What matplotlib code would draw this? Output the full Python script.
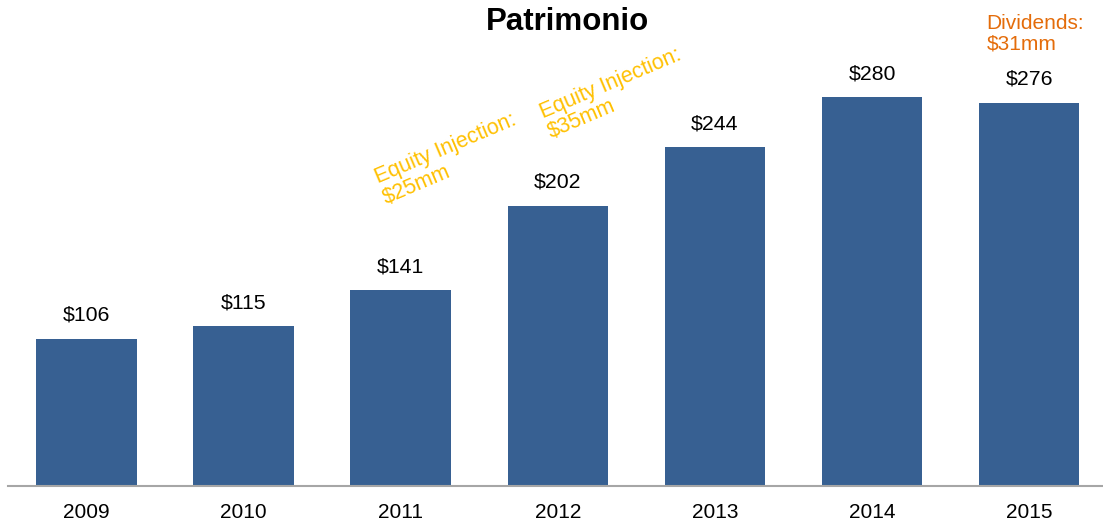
import matplotlib
matplotlib.use("Agg")
import matplotlib.pyplot as plt

# data
years = ["2009", "2010", "2011", "2012", "2013", "2014", "2015"]
equity = [106, 115, 141, 202, 244, 280, 276]
value_labels = ["$106", "$115", "$141", "$202", "$244", "$280", "$276"]

injection_notes = ["Equity Injection:\n$25mm", "Equity Injection:\n$35mm"]
dividend_note = "Dividends:\n$31mm"

plt.rcParams['font.family'] = ['Liberation Sans', 'DejaVu Sans']

fig = plt.figure(figsize=(11.03, 5.26), dpi=100, facecolor='white')
ax = fig.add_axes([8 / 1103, 40 / 526, 1095 / 1103, 486 / 526])

x = list(range(len(years)))
bars = ax.bar(x, equity, width=0.64, color='#376092', zorder=2)

for xi, v, lab in zip(x, equity, value_labels):
    ax.text(xi, v + 10, lab, ha='center', va='bottom', fontsize=15.3, color='black')

ax.set_xlim(-0.5, 6.47)
ax.set_ylim(0, 350)
ax.set_xticks(x)
ax.set_xticklabels(years, fontsize=15)
ax.tick_params(axis='x', length=0, pad=12)
ax.set_yticks([])
for side in ['left', 'right', 'top']:
    ax.spines[side].set_visible(False)
ax.spines['bottom'].set_color('#a6a6a6')
ax.spines['bottom'].set_linewidth(1.5)

# notes
ax.text(1.92, 200, injection_notes[0], rotation=23, rotation_mode='anchor',
        ha='left', va='bottom', fontsize=15.5, color='#FFC000', linespacing=1.05)
ax.text(2.97, 247, injection_notes[1], rotation=23, rotation_mode='anchor',
        ha='left', va='bottom', fontsize=15.5, color='#FFC000', linespacing=1.05)
ax.text(5.73, 340, dividend_note, ha='left', va='top', fontsize=15,
        color='#E46C0A', linespacing=1.1, clip_on=False)

fig.text(567 / 1103, 1 - 22 / 526, "Patrimonio", ha='center', va='center',
         fontsize=22.5, fontweight='bold')

fig.savefig("out.png", dpi=100, facecolor='white')
plt.close(fig)
